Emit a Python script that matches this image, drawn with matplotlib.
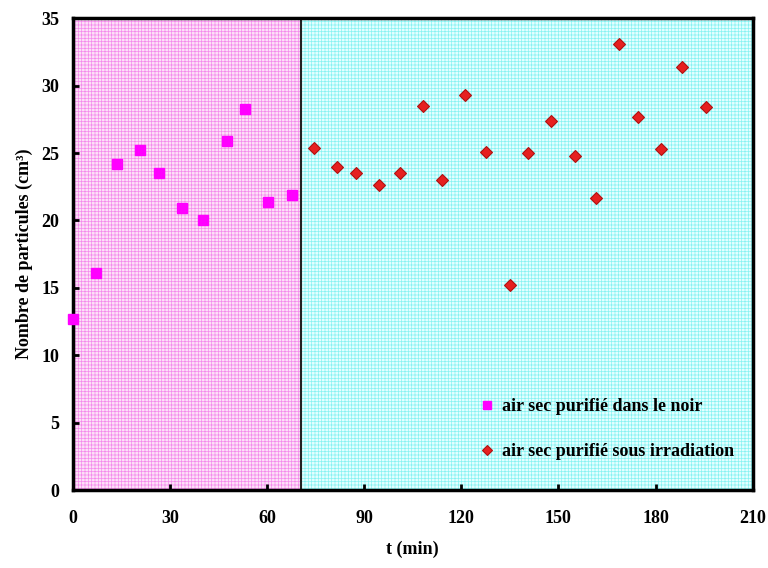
import matplotlib
matplotlib.use("Agg")
import matplotlib.pyplot as plt

# data
t_dark = [0, 7.0, 13.6, 20.7, 26.6, 33.8, 40.3, 47.5, 53.2, 60.4, 67.6]
n_dark = [12.7, 16.1, 24.2, 25.2, 23.5, 20.9, 20.0, 25.9, 28.3, 21.4, 21.9]

t_irr = [74.5, 81.5, 87.3, 94.5, 101.1, 108.2, 113.9, 121.1, 127.5, 135.0,
         140.6, 147.8, 155.0, 161.6, 168.8, 174.6, 181.6, 188.3, 195.5]
n_irr = [25.4, 24.0, 23.5, 22.6, 23.5, 28.5, 23.0, 29.3, 25.1, 15.2,
         25.0, 27.4, 24.8, 21.7, 33.1, 27.7, 25.3, 31.4, 28.4]

t_switch = 70.6
x_ticks = [0, 30, 60, 90, 120, 150, 180, 210]
y_ticks = [0, 5, 10, 15, 20, 25, 30, 35]

plt.rcParams["font.family"] = ["Liberation Serif", "DejaVu Serif"]
plt.rcParams["font.weight"] = "bold"
plt.rcParams["hatch.linewidth"] = 0.5

fig = plt.figure(figsize=(7.68, 5.68), dpi=100)
ax = fig.add_axes([0.095, 0.137, 0.885, 0.831])

# shaded backgrounds (dark phase / irradiation phase)
ax.axvspan(0, t_switch, facecolor="#fde0f8", edgecolor="#f48aec",
           hatch="+++++", linewidth=0, zorder=0)
ax.axvspan(t_switch, 210, facecolor="#e2ffff", edgecolor="#86f2f2",
           hatch="+++++", linewidth=0, zorder=0)
ax.axvline(t_switch, color="#222222", lw=1.5, zorder=1)

ax.plot(t_dark, n_dark, ls="none", marker="s", ms=6.5, color="#ff00ff",
        mec="#ff00ff", clip_on=False, zorder=3,
        label="air sec purifié dans le noir")
ax.plot(t_irr, n_irr, ls="none", marker="D", ms=6.5, color="#e62020",
        mec="#b01010", mew=0.8, clip_on=False, zorder=3,
        label="air sec purifié sous irradiation")

ax.set_xlim(0, 210)
ax.set_ylim(0, 35)
ax.set_xticks(x_ticks)
ax.set_yticks(y_ticks)
ax.tick_params(direction="in", length=4, width=2, labelsize=13)
ax.tick_params(axis="x", pad=14)
ax.tick_params(axis="y", pad=10)
for s in ax.spines.values():
    s.set_linewidth(2.5)

ax.set_xlabel("t (min)", fontsize=13, fontweight="bold", labelpad=10)
ax.set_ylabel("Nombre de particules (cm³)", fontsize=13, fontweight="bold",
              labelpad=6)

ax.legend(loc="upper left", bbox_to_anchor=(0.588, 0.21), borderaxespad=0,
          frameon=False, fontsize=13, labelspacing=1.55, handlelength=0.8,
          handletextpad=0.4, markerscale=0.8)

fig.savefig("out.png", dpi=100)
